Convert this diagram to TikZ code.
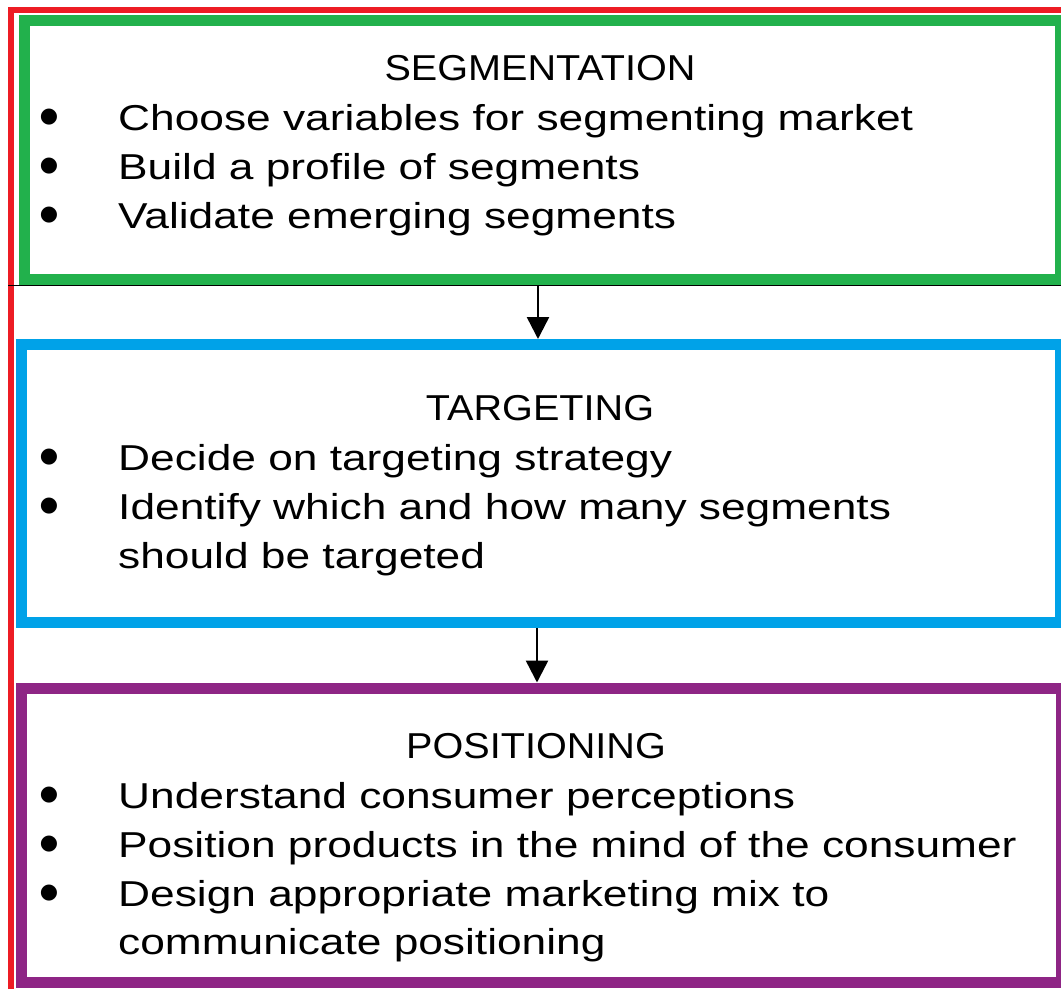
\documentclass[tikz,border=0pt]{standalone}
\usepackage{fontspec}
\setmainfont{Liberation Sans}[FakeStretch=1.23]
\newfontfamily\ttlfont{Liberation Sans}[FakeStretch=1.1]
\newfontfamily\dotfont{DejaVu Sans}
\usetikzlibrary{arrows.meta}

\definecolor{stpred}{HTML}{ED1C24}
\definecolor{stpgreen}{HTML}{22B14C}
\definecolor{stpblue}{HTML}{00A2E8}
\definecolor{stppurple}{HTML}{8E2585}

\tikzset{
  stpbox/.style={draw, rectangle, line width=11pt, inner sep=0pt},
  ttl/.style={anchor=base, inner sep=0pt, font=\ttlfont\fontsize{36}{44}\selectfont},
  item/.style={anchor=base west, inner sep=0pt},
  dot/.style={anchor=center, inner sep=0pt, font=\dotfont\fontsize{21}{21}\selectfont},
  flow/.style={line width=2.5pt, -{Triangle[width=22pt,length=22pt]}},
}

\begin{document}
\begin{tikzpicture}[x=1pt, y=-1pt, font=\fontsize{36}{44}\selectfont]
\useasboundingbox (0,0) rectangle (1061,989);
\fill[white] (0,0) rectangle (1061,989);

% outer red frame
\draw[stpred, line width=6.5pt] (11,989) -- (11,10) -- (1065,10);

% the three stages
\node[stpbox, draw=stpgreen, minimum width=1036pt, minimum height=259pt] (seg) at (542,150) {};
\node[stpbox, draw=stpblue, minimum width=1039pt, minimum height=278pt] (tgt) at (541,483.5) {};
\node[stpbox, draw=stppurple, minimum width=1040pt, minimum height=294pt] (pos) at (541,835) {};
\draw[line width=0.8pt] (8,285.5) -- (1061,285.5);

% segmentation
\node[ttl] (segttl) at (540,80) {SEGMENTATION};
\foreach \n/\y/\t in {1/130/Choose variables for segmenting market,
                      2/179/Build a profile of segments,
                      3/228/Validate emerging segments} {
  \node[dot] (segdot\n) at (49,\y-13) {●};
  \node[item] (segitem\n) at (118,\y) {\t};
}

% targeting
\node[ttl] (tgtttl) at (540,420) {TARGETING};
\foreach \n/\y/\t in {1/470/Decide on targeting strategy,
                      2/519/Identify which and how many segments} {
  \node[dot] (tgtdot\n) at (49,\y-13) {●};
  \node[item] (tgtitem\n) at (118,\y) {\t};
}
\node[item] (tgtitem3) at (118,568) {should be targeted};

% positioning
\node[ttl] (posttl) at (536,758) {POSITIONING};
\foreach \n/\y/\t in {1/808/Understand consumer perceptions,
                      2/857/Position products in the mind of the consumer,
                      3/906/Design appropriate marketing mix to} {
  \node[dot] (posdot\n) at (49,\y-13) {●};
  \node[item] (positem\n) at (118,\y) {\t};
}
\node[item] (positem4) at (118,954) {communicate positioning};

% flow between stages
\draw[flow] ([xshift=-4pt]seg.south) -- ([xshift=-4pt]seg.south |- tgt.north);
\draw[flow] ([xshift=-4pt]tgt.south) -- ([xshift=-4pt]tgt.south |- pos.north);
\end{tikzpicture}
\end{document}
